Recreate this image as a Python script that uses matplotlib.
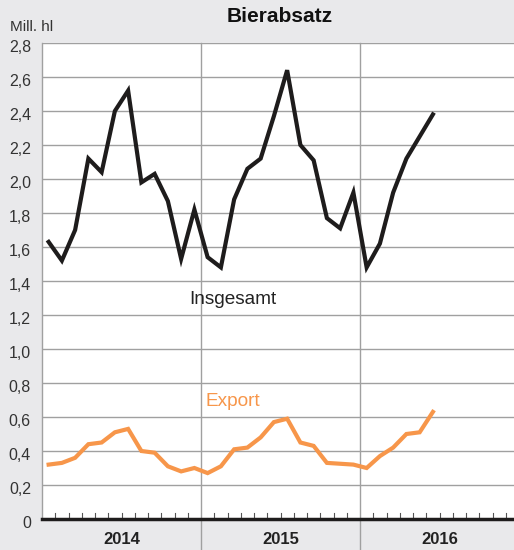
import matplotlib
matplotlib.use('Agg')
import matplotlib.pyplot as plt
import matplotlib.transforms as mtransforms
import numpy as np

plt.rcParams['font.family'] = ['Liberation Sans', 'DejaVu Sans']

# ── DATEN ──────────────────────────────────────────────────────────────────────
jahre = ['2014', '2015', '2016']
insgesamt = [1.63, 1.52, 1.70, 2.12, 2.04, 2.40, 2.52, 1.98, 2.03, 1.87, 1.53, 1.82,
             1.54, 1.48, 1.88, 2.06, 2.12, 2.37, 2.64, 2.20, 2.11, 1.77, 1.71, 1.92,
             1.48, 1.62, 1.92, 2.12, 2.25, 2.38]
export = [0.32, 0.33, 0.36, 0.44, 0.45, 0.51, 0.53, 0.40, 0.39, 0.31, 0.28, 0.30,
          0.27, 0.31, 0.41, 0.42, 0.48, 0.57, 0.59, 0.45, 0.43, 0.33, 0.325, 0.32,
          0.30, 0.37, 0.42, 0.50, 0.51, 0.63]
y_ticks = [0, 0.2, 0.4, 0.6, 0.8, 1.0, 1.2, 1.4, 1.6, 1.8, 2.0, 2.2, 2.4, 2.6, 2.8]
y_labels = ['0' if v == 0 else f'{v:.1f}'.replace('.', ',') for v in y_ticks]

BG = '#e9e9eb'
GRID = '#a0a0a0'
ORANGE = '#f7964a'

fig = plt.figure(figsize=(5.14, 5.5), dpi=100, facecolor=BG)
ax = fig.add_axes([42/514, 31/550, 1 - 42/514, 476/550])
ax.set_facecolor('white')

monate = np.arange(len(insgesamt)) + 0.5
ax.set_xlim(0, 35.62)
ax.set_ylim(0, 2.8)

# Gitter
for v in y_ticks[1:]:
    ax.axhline(v, color=GRID, lw=1.0, zorder=1)
for j in (12, 24):
    ax.axvline(j, ymin=-31/476, ymax=1, color=GRID, lw=1.0, zorder=1, clip_on=False)

# Monatsticks
for m in range(1, 36):
    if m % 12:
        ax.plot([m, m], [0, 0.035], color='#555555', lw=0.8, zorder=2)

ax.plot(monate, insgesamt, color='#1e1c1c', lw=3.0, zorder=3, solid_joinstyle='miter')
ax.plot(monate, export, color=ORANGE, lw=3.0, zorder=3, solid_joinstyle='miter')

ax.text(14.4, 1.29, 'Insgesamt', ha='center', va='center', fontsize=13.7, color='#222222')
ax.text(14.4, 0.69, 'Export', ha='center', va='center', fontsize=13.7, color=ORANGE)

# Achsen
for s in ['top', 'right']:
    ax.spines[s].set_visible(False)
ax.spines['left'].set_color(GRID)
ax.spines['left'].set_linewidth(1.0)
ax.spines['bottom'].set_color('#1e1c1c')
ax.spines['bottom'].set_linewidth(2.5)
ax.spines['bottom'].set_zorder(4)

ax.set_yticks(y_ticks)
ax.set_yticklabels(y_labels, fontsize=11.5, color='#333333')
ax.tick_params(axis='y', length=0, pad=8)
versatz = mtransforms.ScaledTranslation(0, -3/100, fig.dpi_scale_trans)
for lbl in ax.get_yticklabels():
    lbl.set_transform(lbl.get_transform() + versatz)
ax.set_xticks([6, 18, 30])
ax.set_xticklabels(jahre, fontsize=12, fontweight='bold', color='#222222')
ax.tick_params(axis='x', length=0, pad=9)

fig.text(10/514, 1 - 27/550, 'Mill. hl', fontsize=11, color='#333333', va='center')
fig.text(280/514, 1 - 16/550, 'Bierabsatz', fontsize=15, fontweight='bold',
         color='#111111', ha='center', va='center')

fig.savefig('out.png', dpi=100, facecolor=BG)
